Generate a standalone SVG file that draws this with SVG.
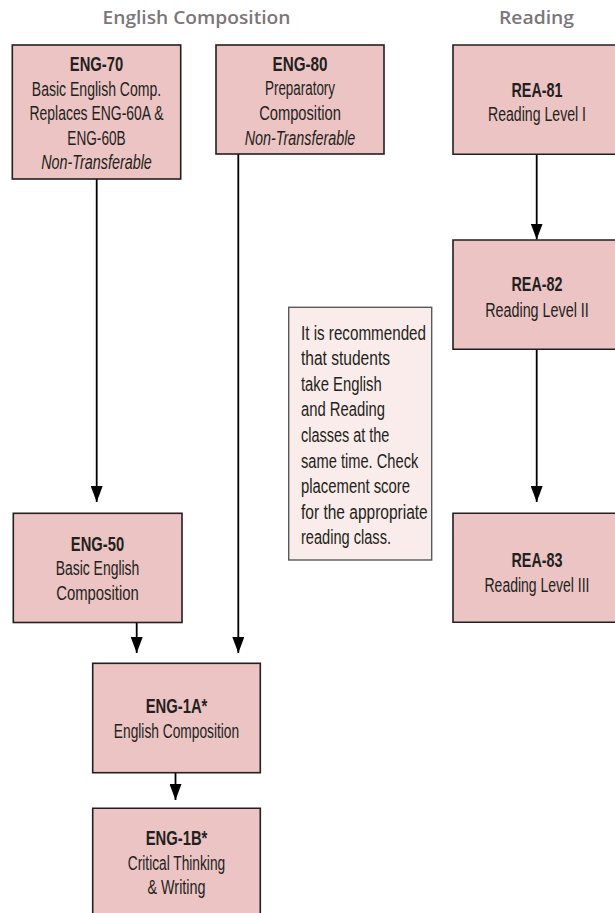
<svg xmlns="http://www.w3.org/2000/svg" width="615" height="913" viewBox="0 0 615 913">
<style>
  .box { fill: #ebc4c3; stroke: #231f20; stroke-width: 1.6; }
  .fill { fill: #ebc4c3; stroke: none; }
  .edge { fill: none; stroke: #231f20; stroke-width: 1.6; }
  .note { fill: #f9ecea; stroke: #58595b; stroke-width: 1.4; }
  .hdr { font-family: "Open Sans", "Liberation Sans", sans-serif; font-weight: 600; font-size: 18px; fill: #7e7579; text-anchor: middle; }
  .t { font-family: "Liberation Sans Narrow", "Liberation Sans", "DejaVu Sans Condensed", sans-serif; font-size: 20px; fill: #231f20; text-anchor: middle; }
  .b { font-weight: bold; }
  .i { font-style: italic; }
  .n { font-family: "Liberation Sans Narrow", "Liberation Sans", "DejaVu Sans Condensed", sans-serif; font-size: 20px; fill: #231f20; }
  .c { fill: none; stroke: #000; stroke-width: 1.8; }
</style>
<defs>
  <marker id="ah" viewBox="0 0 16 12" refX="16" refY="6" markerWidth="16" markerHeight="12" markerUnits="userSpaceOnUse" orient="auto">
    <path d="M0,0 L16,6 L0,12 z" fill="#000"/>
  </marker>
</defs>
<rect width="615" height="913" fill="#fff"/>

<text class="hdr" x="196.5" y="24" textLength="188" lengthAdjust="spacingAndGlyphs">English Composition</text>
<text class="hdr" x="536.5" y="24" textLength="75" lengthAdjust="spacingAndGlyphs">Reading</text>

<g id="connectors">
  <line class="c" x1="96.7" y1="179" x2="96.7" y2="502" marker-end="url(#ah)"/>
  <line class="c" x1="238.3" y1="154" x2="238.3" y2="653" marker-end="url(#ah)"/>
  <line class="c" x1="136.7" y1="622.5" x2="136.7" y2="653" marker-end="url(#ah)"/>
  <line class="c" x1="175.5" y1="773" x2="175.5" y2="800" marker-end="url(#ah)"/>
  <line class="c" x1="536.7" y1="154" x2="536.7" y2="239.5" marker-end="url(#ah)"/>
  <line class="c" x1="536.7" y1="349.3" x2="536.7" y2="502" marker-end="url(#ah)"/>
</g>

<g id="eng70">
  <rect class="box" x="12.3" y="45" width="168.4" height="134"/>
  <text class="t b" x="96.5" y="70.5" textLength="53.3" lengthAdjust="spacingAndGlyphs">ENG-70</text>
  <text class="t" x="96.5" y="95.5" textLength="129.3" lengthAdjust="spacingAndGlyphs">Basic English Comp.</text>
  <text class="t" x="96.5" y="120.2" textLength="134" lengthAdjust="spacingAndGlyphs">Replaces ENG-60A &amp;</text>
  <text class="t" x="96.5" y="144.8" textLength="58.3" lengthAdjust="spacingAndGlyphs">ENG-60B</text>
  <text class="t i" x="96.5" y="169.4" textLength="110.7" lengthAdjust="spacingAndGlyphs">Non-Transferable</text>
</g>

<g id="eng80">
  <rect class="box" x="216" y="45" width="168" height="109"/>
  <text class="t b" x="300" y="70.5" textLength="55" lengthAdjust="spacingAndGlyphs">ENG-80</text>
  <text class="t" x="300" y="95.2" textLength="70" lengthAdjust="spacingAndGlyphs">Preparatory</text>
  <text class="t" x="300" y="120" textLength="81.7" lengthAdjust="spacingAndGlyphs">Composition</text>
  <text class="t i" x="300" y="144.8" textLength="110.7" lengthAdjust="spacingAndGlyphs">Non-Transferable</text>
</g>

<g id="rea81">
  <rect class="fill" x="453" y="45" width="162" height="109.3"/>
  <path class="edge" d="M615,45 H453 V154.3 H615"/>
  <text class="t b" x="537" y="96.5" textLength="51" lengthAdjust="spacingAndGlyphs">REA-81</text>
  <text class="t" x="537" y="121" textLength="98" lengthAdjust="spacingAndGlyphs">Reading Level I</text>
</g>

<g id="rea82">
  <rect class="fill" x="453" y="240" width="162" height="109.3"/>
  <path class="edge" d="M615,240 H453 V349.3 H615"/>
  <text class="t b" x="537" y="291" textLength="51" lengthAdjust="spacingAndGlyphs">REA-82</text>
  <text class="t" x="537" y="316.5" textLength="103.7" lengthAdjust="spacingAndGlyphs">Reading Level II</text>
</g>

<g id="rea83">
  <rect class="fill" x="453" y="513.3" width="162" height="109"/>
  <path class="edge" d="M615,513.3 H453 V622.3 H615"/>
  <text class="t b" x="537" y="567" textLength="51" lengthAdjust="spacingAndGlyphs">REA-83</text>
  <text class="t" x="537" y="592" textLength="105" lengthAdjust="spacingAndGlyphs">Reading Level III</text>
</g>

<g id="note">
  <rect class="note" x="288.7" y="307.3" width="143" height="252.7"/>
  <text class="n" x="301" y="339.5" textLength="125" lengthAdjust="spacingAndGlyphs">It is recommended</text>
  <text class="n" x="301" y="365.1" textLength="89" lengthAdjust="spacingAndGlyphs">that students</text>
  <text class="n" x="301" y="390.7" textLength="80.7" lengthAdjust="spacingAndGlyphs">take English</text>
  <text class="n" x="301" y="416.3" textLength="84" lengthAdjust="spacingAndGlyphs">and Reading</text>
  <text class="n" x="301" y="441.9" textLength="88.3" lengthAdjust="spacingAndGlyphs">classes at the</text>
  <text class="n" x="301" y="467.5" textLength="117.3" lengthAdjust="spacingAndGlyphs">same time. Check</text>
  <text class="n" x="301" y="493.1" textLength="109" lengthAdjust="spacingAndGlyphs">placement score</text>
  <text class="n" x="301" y="518.7" textLength="126.7" lengthAdjust="spacingAndGlyphs">for the appropriate</text>
  <text class="n" x="301" y="544.3" textLength="90" lengthAdjust="spacingAndGlyphs">reading class.</text>
</g>

<g id="eng50">
  <rect class="box" x="13.3" y="513.3" width="168.7" height="109.2"/>
  <text class="t b" x="97.5" y="550.7" textLength="53.3" lengthAdjust="spacingAndGlyphs">ENG-50</text>
  <text class="t" x="97.5" y="575.3" textLength="83.7" lengthAdjust="spacingAndGlyphs">Basic English</text>
  <text class="t" x="97.5" y="600" textLength="82.7" lengthAdjust="spacingAndGlyphs">Composition</text>
</g>

<g id="eng1a">
  <rect class="box" x="92.7" y="663.3" width="167.6" height="109.4"/>
  <text class="t b" x="176.5" y="713.3" textLength="61.7" lengthAdjust="spacingAndGlyphs">ENG-1A*</text>
  <text class="t" x="176.5" y="738.3" textLength="125.3" lengthAdjust="spacingAndGlyphs">English Composition</text>
</g>

<g id="eng1b">
  <rect class="fill" x="92.7" y="808.3" width="167.6" height="104.7"/>
  <path class="edge" d="M92.7,913 V808.3 H260.3 V913"/>
  <text class="t b" x="176.5" y="845" textLength="61.7" lengthAdjust="spacingAndGlyphs">ENG-1B*</text>
  <text class="t" x="176.5" y="869.5" textLength="97.3" lengthAdjust="spacingAndGlyphs">Critical Thinking</text>
  <text class="t" x="176.5" y="894.3" textLength="58" lengthAdjust="spacingAndGlyphs">&amp; Writing</text>
</g>
</svg>
